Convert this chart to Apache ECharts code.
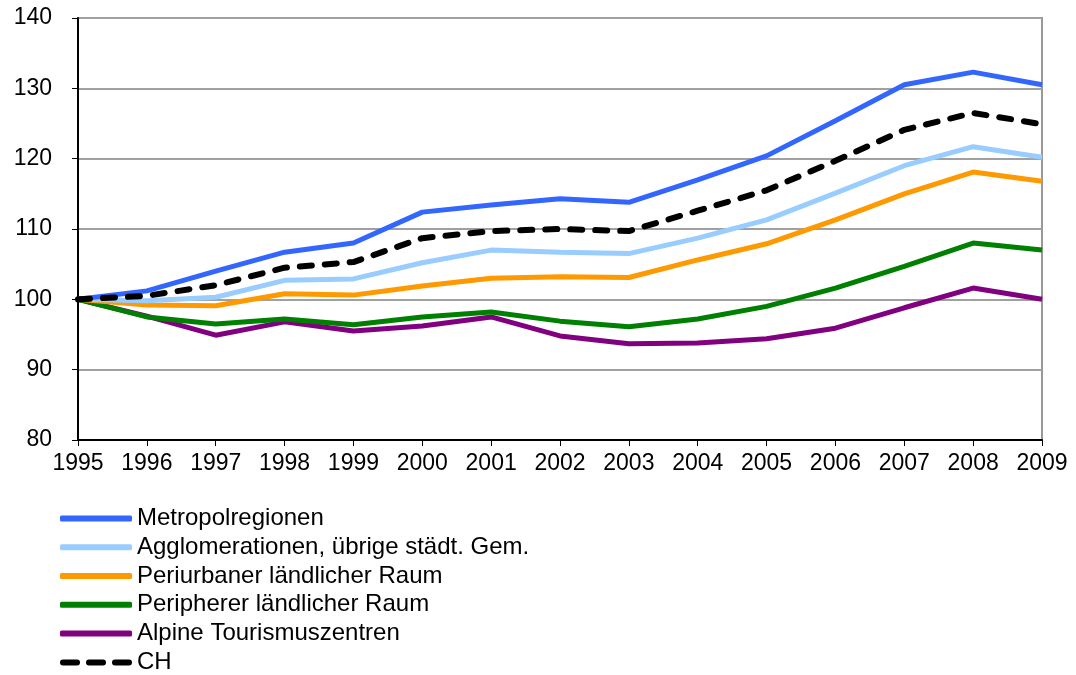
<!DOCTYPE html>
<html>
<head>
<meta charset="UTF-8">
<title>Regionen Index</title>
<script src="https://cdn.jsdelivr.net/npm/echarts@6/dist/echarts.min.js"></script>
<style>
  html, body { margin: 0; padding: 0; background: #fff; }
  #chart { width: 1076px; height: 675px; }
</style>
</head>
<body>
<div id="chart"></div>
<script>
var years = ['1995','1996','1997','1998','1999','2000','2001','2002','2003','2004','2005','2006','2007','2008','2009'];

var metro   = [100, 101.2, 104.0, 106.7, 108.0, 112.4, 113.4, 114.3, 113.8, 117.0, 120.4, 125.4, 130.5, 132.3, 130.5];
var agglo   = [100, 99.8, 100.3, 102.7, 102.9, 105.2, 107.0, 106.7, 106.5, 108.7, 111.3, 115.1, 119.0, 121.7, 120.2];
var periurb = [100, 99.2, 99.1, 100.8, 100.6, 101.9, 103.0, 103.2, 103.1, 105.6, 107.9, 111.3, 115.0, 118.1, 116.8];
var periph  = [100, 97.5, 96.5, 97.2, 96.4, 97.5, 98.2, 96.9, 96.1, 97.2, 99.0, 101.6, 104.7, 108.0, 107.0];
var alpine  = [100, 97.6, 94.9, 96.8, 95.5, 96.2, 97.5, 94.8, 93.7, 93.8, 94.4, 95.9, 98.8, 101.6, 100.0];
var ch      = [100, 100.5, 102.0, 104.5, 105.3, 108.7, 109.7, 110.0, 109.7, 112.6, 115.5, 119.7, 124.1, 126.5, 124.9];

var names = ['Metropolregionen', 'Agglomerationen, übrige städt. Gem.', 'Periurbaner ländlicher Raum',
             'Peripherer ländlicher Raum', 'Alpine Tourismuszentren', 'CH'];
var colors = ['#3366FF', '#99CCFF', '#FF9900', '#008000', '#800080', '#000000'];
var values = [metro, agglo, periurb, periph, alpine, ch];

var font = 'Liberation Sans, Arial, sans-serif';
// three dashes for the CH legend entry
var dashIcon = 'path://M3,0h14a3,3 0 0 1 0,6h-14a3,3 0 0 1 0,-6z' +
               'M29,0h14a3,3 0 0 1 0,6h-14a3,3 0 0 1 0,-6z' +
               'M55,0h14a3,3 0 0 1 0,6h-14a3,3 0 0 1 0,-6z';

var series = names.map(function (n, i) {
  var dashed = n === 'CH';
  return {
    name: n,
    type: 'line',
    data: values[i],
    symbol: 'none',
    z: dashed ? 10 : 5 - i,
    lineStyle: {
      color: colors[i],
      width: dashed ? 6 : 5,
      type: dashed ? [12, 13] : 'solid',
      cap: dashed ? 'round' : 'butt'
    },
    itemStyle: { color: colors[i] }
  };
});

var legendData = names.map(function (n) {
  return { name: n, icon: n === 'CH' ? dashIcon : 'roundRect' };
});

var chart = echarts.init(document.getElementById('chart'), null, { renderer: 'canvas' });
chart.setOption({
  animation: false,
  backgroundColor: '#fff',
  grid: {
    left: 78, right: 34, top: 18, bottom: 235,
    show: true, borderColor: '#999', borderWidth: 2
  },
  legend: {
    orient: 'vertical',
    left: 55, top: 499, height: 180,
    itemWidth: 72, itemHeight: 6, itemGap: 0,
    textStyle: { fontFamily: font, fontSize: 24, lineHeight: 28.8, color: '#000' },
    data: legendData
  },
  xAxis: {
    type: 'category',
    data: years,
    boundaryGap: false,
    axisLine: { lineStyle: { color: '#000', width: 2 } },
    axisTick: { show: true, length: 6, lineStyle: { color: '#000' } },
    axisLabel: { fontFamily: font, fontSize: 23, color: '#000', margin: 12, interval: 0 },
    splitLine: { show: false }
  },
  yAxis: {
    type: 'value',
    min: 80, max: 140, interval: 10,
    axisLine: { show: true, lineStyle: { color: '#000', width: 2 } },
    axisTick: { show: true, length: 6, lineStyle: { color: '#000' } },
    axisLabel: { fontFamily: font, fontSize: 23, color: '#000', margin: 26 },
    splitLine: { lineStyle: { color: '#a0a0a0', width: 2 } }
  },
  series: series
});
</script>
</body>
</html>
